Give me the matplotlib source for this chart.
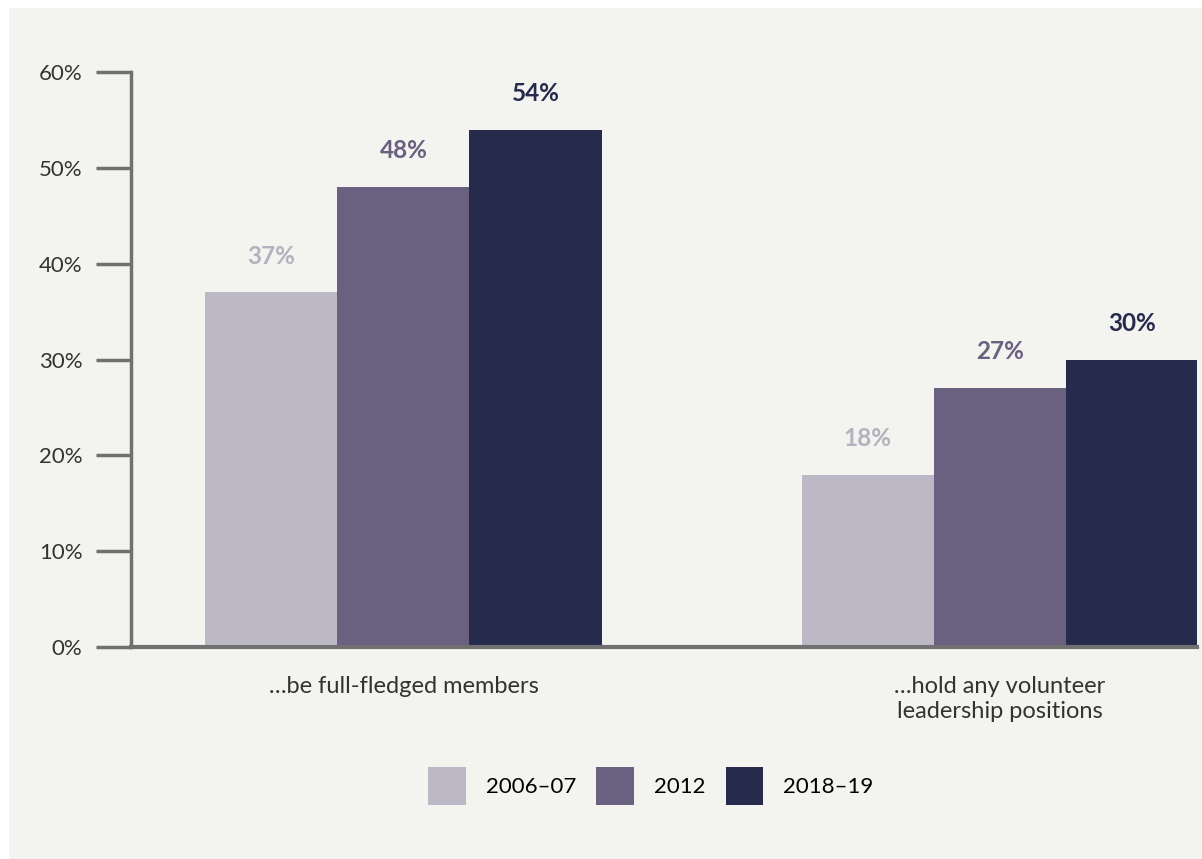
import matplotlib.pyplot as plt
from matplotlib.patches import Rectangle, Patch
import numpy as np

# Data
categories = ['\u2026be full-fledged members', '\u2026hold any volunteer\nleadership positions']
series = ['2006\u201307', '2012', '2018\u201319']
values_0607 = [37, 18]
values_2012 = [48, 27]
values_1819 = [54, 30]
colors = ['#bdb8c6', '#6a6080', '#262a4d']
label_colors = ['#b5b1bd', '#6a6080', '#262a4d']

plt.rcParams['font.family'] = ['Lato', 'DejaVu Sans']

bg = '#f3f3f0'
fig = plt.figure(figsize=(12.02, 8.59), dpi=100)
fig.patch.set_facecolor(bg)
# thin white strips on the top and left edges
fig.patches.append(Rectangle((0, 1 - 8 / 859), 1, 8 / 859, transform=fig.transFigure,
                             facecolor='white', edgecolor='none'))
fig.patches.append(Rectangle((0, 0), 9 / 1202, 1, transform=fig.transFigure,
                             facecolor='white', edgecolor='none'))

ax = fig.add_axes([131 / 1202, 212 / 859, (1197 - 131) / 1202, (647 - 72) / 859])
ax.set_facecolor(bg)

x = np.arange(len(categories))
width = 0.2215
all_values = [values_0607, values_2012, values_1819]
for i, vals in enumerate(all_values):
    pos = x + (i - 1) * width
    ax.bar(pos, vals, width=width, color=colors[i], label=series[i], zorder=2)
    for p, v in zip(pos, vals):
        ax.text(p, v + 2.6, f'{v}%', ha='center', va='bottom', fontsize=17.5,
                fontweight='bold', color=label_colors[i])

ax.set_xlim(-0.457, 1.331)
ax.set_ylim(0, 60)
ax.set_yticks(range(0, 61, 10))
ax.set_yticklabels([f'{t}%' for t in range(0, 61, 10)], fontsize=16, color='#333333')
ax.set_xticks(x)
ax.set_xticklabels(categories, fontsize=17, color='#333333', linespacing=1.25)
ax.tick_params(axis='x', length=0, pad=21)
ax.tick_params(axis='y', length=25, width=2.5, color='#707070', pad=10)

for s in ['top', 'right']:
    ax.spines[s].set_visible(False)
ax.spines['left'].set_color('#707070')
ax.spines['left'].set_linewidth(2.5)
ax.spines['bottom'].set_color('#707070')
ax.spines['bottom'].set_linewidth(3)
ax.spines['bottom'].set_zorder(3)

handles = [Patch(facecolor=c, edgecolor='none') for c in colors]
fig.legend(handles, series, loc='center', bbox_to_anchor=(651 / 1202, 1 - 786 / 859),
           ncol=3, frameon=False, fontsize=16, handlelength=1.7, handleheight=2.3,
           handletextpad=0.9, columnspacing=0.9)

plt.savefig('out.png', dpi=100, facecolor=bg)
